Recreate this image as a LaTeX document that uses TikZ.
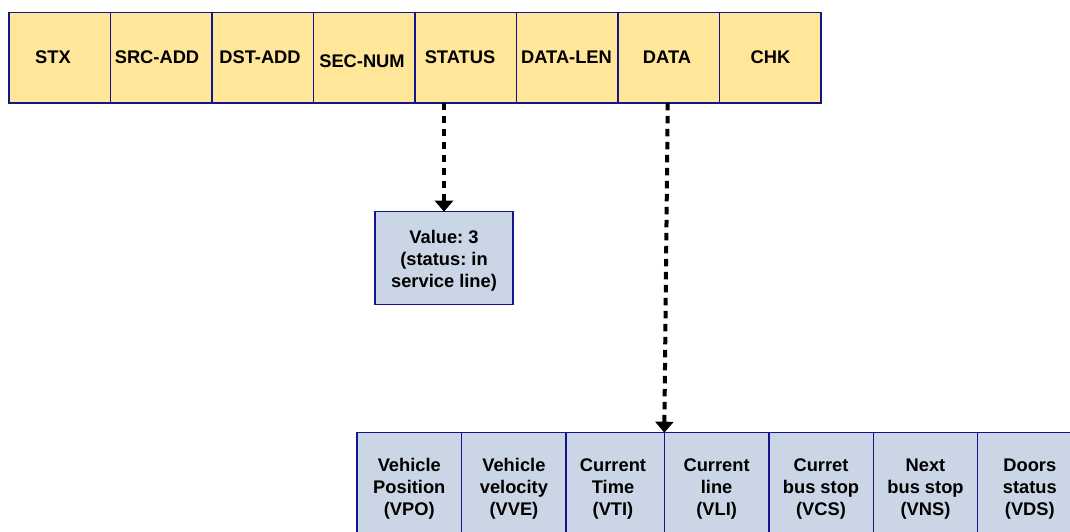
\documentclass[tikz,border=0pt]{standalone}
\usepackage{fontspec}
\setmainfont{Liberation Sans}
\usetikzlibrary{arrows.meta,calc}
\frenchspacing
\definecolor{bordc}{RGB}{20,20,140}
\definecolor{topfill}{RGB}{255,230,153}
\definecolor{botfill}{RGB}{202,214,230}
\tikzset{
  field/.style={draw=bordc, line width=1.4pt, fill=topfill, anchor=north west, minimum width=101.5pt, minimum height=90.5pt, inner sep=0pt, outer sep=0pt},
  sub/.style={draw=bordc, line width=1.4pt, fill=botfill, inner sep=0pt, outer sep=0pt},
  lbl/.style={font=\fontsize{18.3}{22}\selectfont\bfseries\frenchspacing, inner sep=0pt, align=center},
  conn/.style={line width=4pt, dash pattern=on 7.5pt off 5.5pt, -{Triangle[width=18pt,length=11pt]}}
}
\begin{document}
\begin{tikzpicture}[x=1pt,y=-1pt]
\useasboundingbox (0,0) rectangle (1070,531);
\clip (0,0) rectangle (1070,531);
% top frame fields
\node[field] (f1) at (9,12.3) {};
\node[field] (f2) at (110.5,12.3) {};
\node[field] (f3) at (212,12.3) {};
\node[field] (f4) at (313.5,12.3) {};
\node[field] (f5) at (415,12.3) {};
\node[field] (f6) at (516.5,12.3) {};
\node[field] (f7) at (618,12.3) {};
\node[field] (f8) at (719.5,12.3) {};
\node[lbl] (t1) at (53,57.5) {STX};
\node[lbl] (t2) at (157,57.5) {SRC-ADD};
\node[lbl] (t3) at (260,57.5) {DST-ADD};
\node[lbl] (t4) at (362,61.5) {SEC-NUM};
\node[lbl] (t5) at (460,57.5) {STATUS};
\node[lbl] (t6) at (566.5,57.5) {DATA-LEN};
\node[lbl] (t7) at (667,57.5) {DATA};
\node[lbl] (t8) at (770.5,57.5) {CHK};
% status value box
\node[sub, anchor=north west, minimum width=138pt, minimum height=92.5pt] (val) at (375,211.7) {};
\node[lbl] (valt) at (444,261) {Value: 3\\(status: in\\service line)};
% data sub-fields
\node[sub, anchor=north west, minimum width=104.7pt, minimum height=120pt] (d1) at (357,432.7) {};
\node[sub, anchor=north west, minimum width=104.3pt, minimum height=120pt] (d2) at (461.7,432.7) {};
\node[sub, anchor=north west, minimum width=98.3pt, minimum height=120pt] (d3) at (566,432.7) {};
\node[sub, anchor=north west, minimum width=104.7pt, minimum height=120pt] (d4) at (664.3,432.7) {};
\node[sub, anchor=north west, minimum width=104.3pt, minimum height=120pt] (d5) at (769,432.7) {};
\node[sub, anchor=north west, minimum width=104.4pt, minimum height=120pt] (d6) at (873.3,432.7) {};
\node[sub, anchor=north west, minimum width=104.3pt, minimum height=120pt] (d7) at (977.7,432.7) {};
\node[lbl] (s1) at (409.3,489) {Vehicle\\Position\\(VPO)};
\node[lbl] (s2) at (513.9,489) {Vehicle\\velocity\\(VVE)};
\node[lbl] (s3) at (613,489) {Current\\Time\\(VTI)};
\node[lbl] (s4) at (716.6,489) {Current\\line\\(VLI)};
\node[lbl] (s5) at (821,489) {Curret\\bus stop\\(VCS)};
\node[lbl] (s6) at (925.5,489) {Next\\bus stop\\(VNS)};
\node[lbl] (s7) at (1029.8,489) {Doors\\status\\(VDS)};
% connectors
\draw[conn] (f5.south -| val.north) -- (val.north);
\draw[conn] ($(f7.south)+(-1,0)$) -- (d3.north east);
\end{tikzpicture}
\end{document}
